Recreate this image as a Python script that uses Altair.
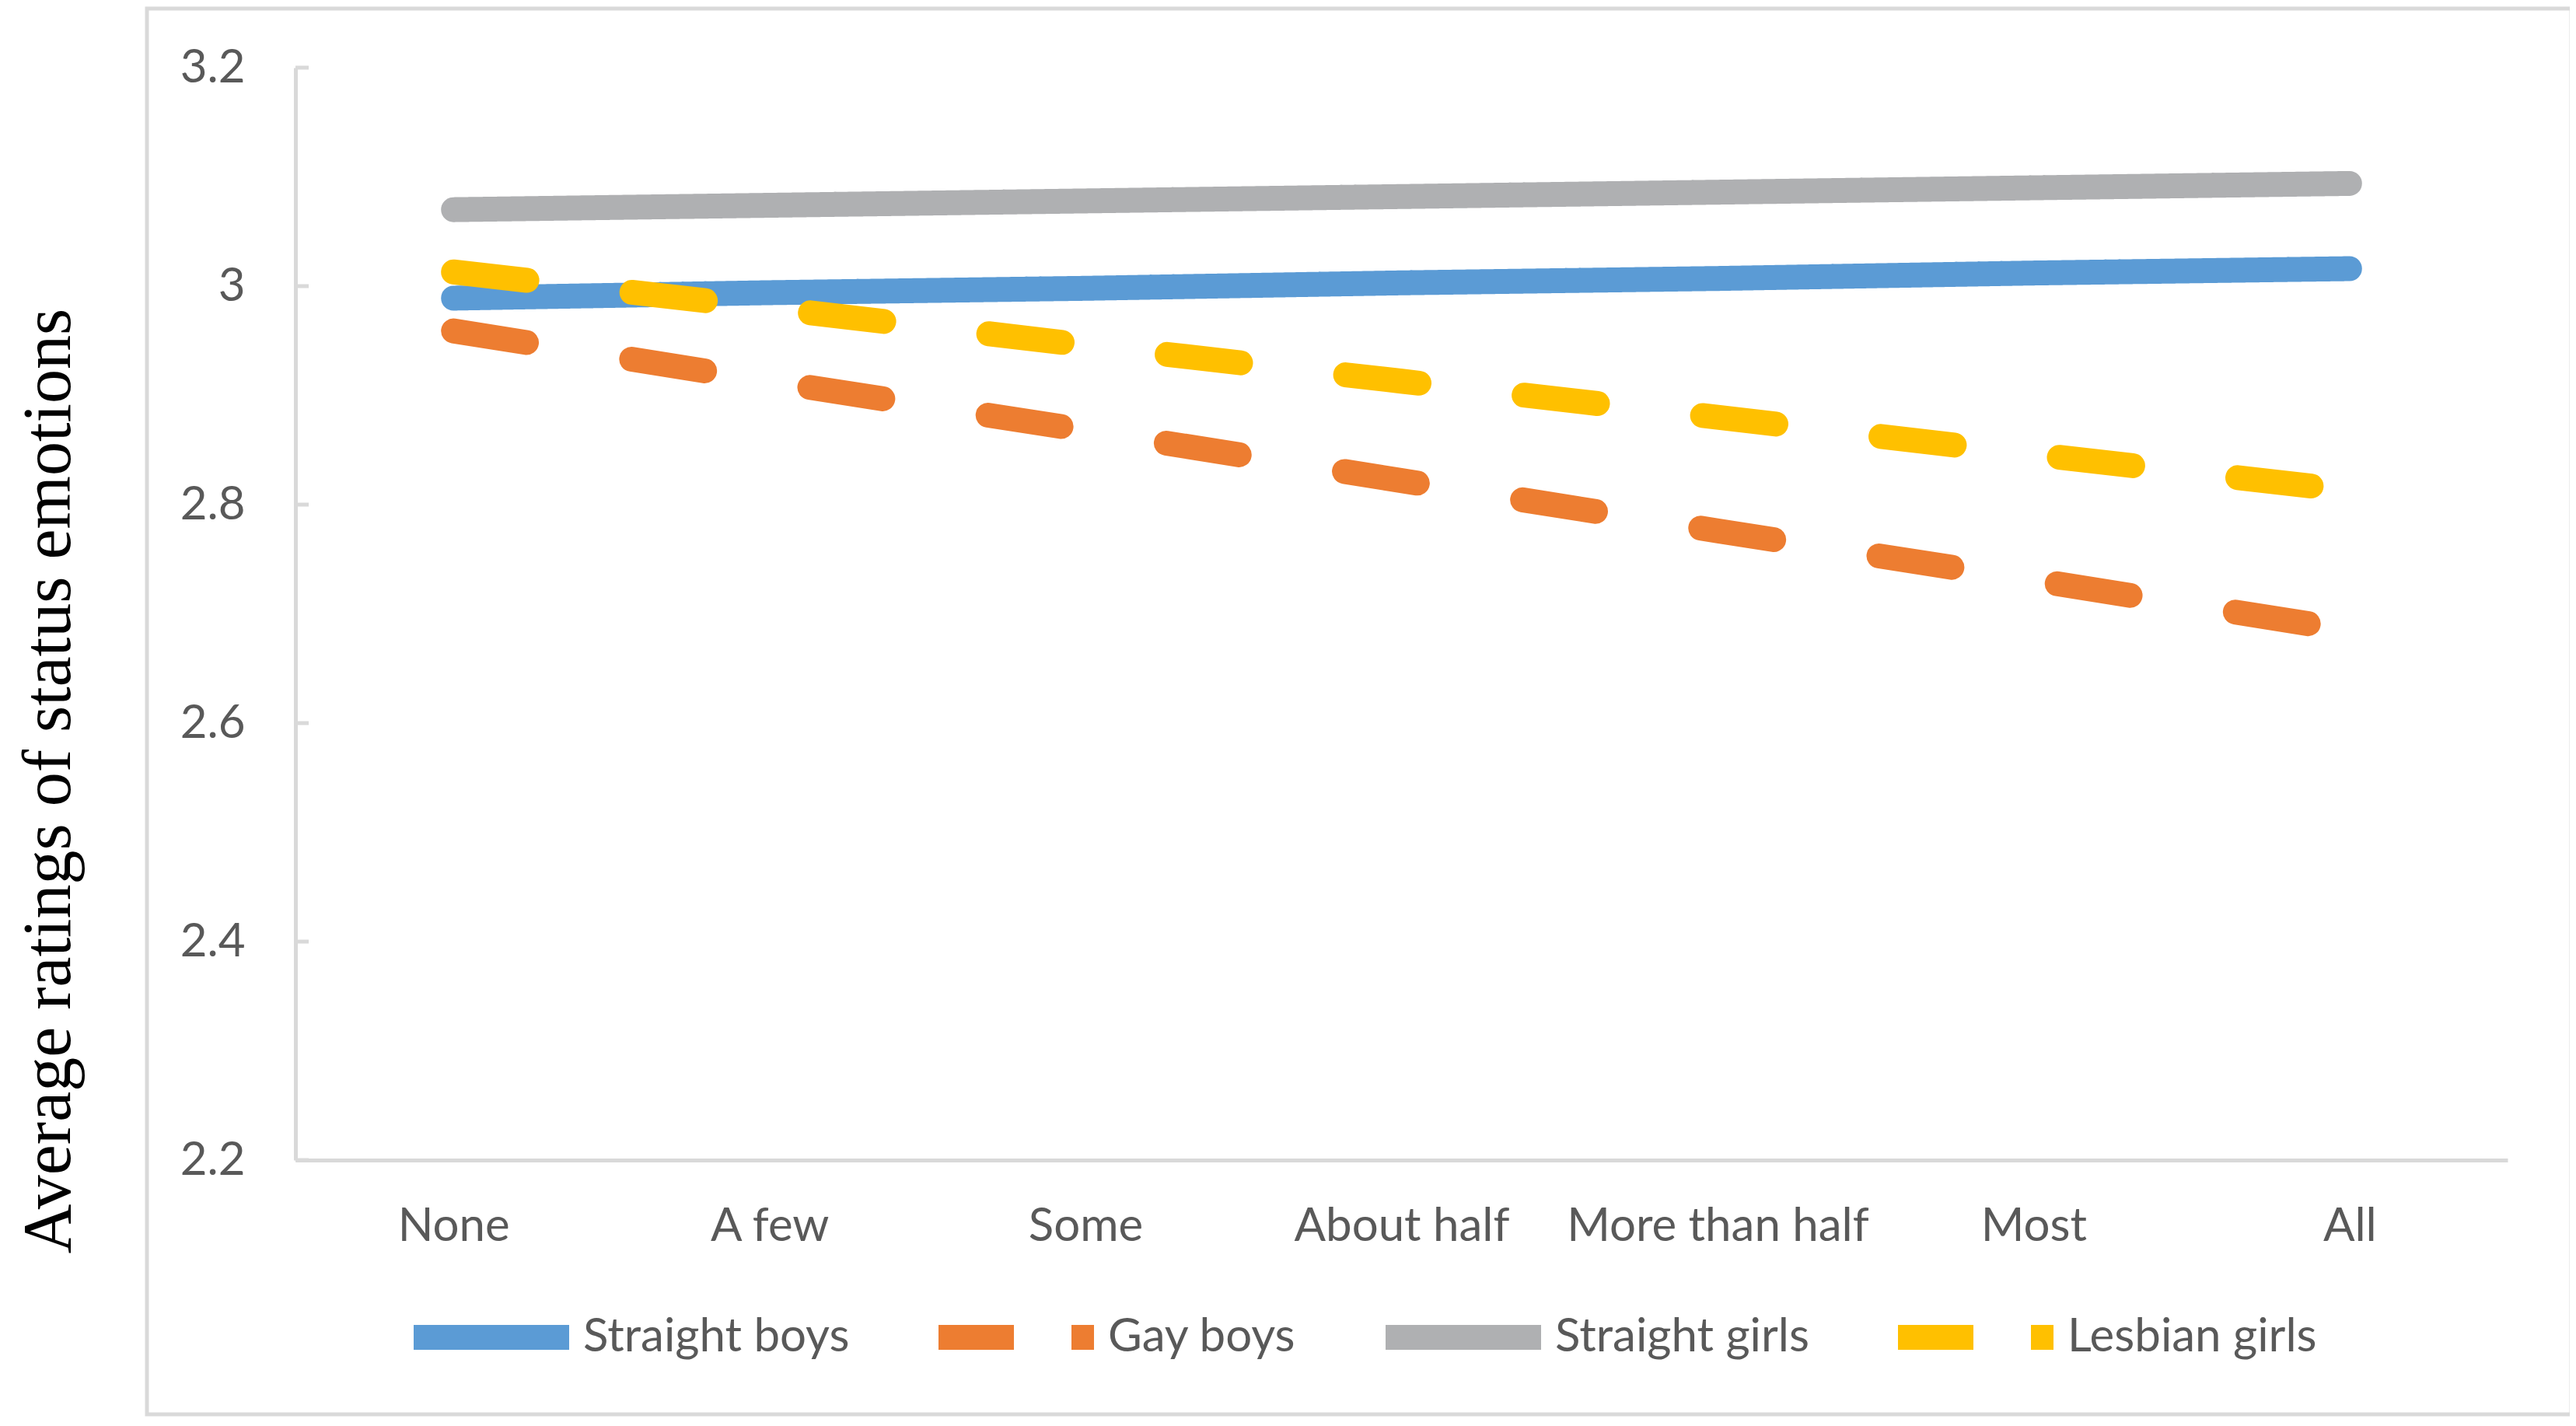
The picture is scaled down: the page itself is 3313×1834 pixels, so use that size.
import altair as alt
import pandas as pd

categories = ["None", "A few", "Some", "About half", "More than half", "Most", "All"]
series_names = ["Straight boys", "Gay boys", "Straight girls", "Lesbian girls"]
straight_boys = [2.989, 2.994, 2.998, 3.003, 3.007, 3.012, 3.016]
gay_boys = [2.959, 2.913, 2.868, 2.822, 2.776, 2.731, 2.685]
straight_girls = [3.070, 3.074, 3.078, 3.082, 3.086, 3.090, 3.094]
lesbian_girls = [3.013, 2.980, 2.946, 2.913, 2.880, 2.846, 2.813]
y_ticks = [2.2, 2.4, 2.6, 2.8, 3.0, 3.2]

colors = ["#5B9BD5", "#ED7D31", "#AFB0B2", "#FFC000"]
dashes = [[1, 0], [95, 137], [1, 0], [95, 136]]
legend_dashes = [[1, 0], [97, 74, 29, 1000], [1, 0], [97, 74, 29, 1000]]

rows = []
for name, vals in zip(series_names, [straight_boys, gay_boys, straight_girls, lesbian_girls]):
    for c, v in zip(categories, vals):
        rows.append({"cat": c, "value": v, "series": name})
df = pd.DataFrame(rows)
ticks_df = pd.DataFrame({"value": y_ticks})
one = pd.DataFrame({"a": [0]})

FONT = "Lato"
GRAY_TXT = "#595959"
AX = "#D9D9D9"

legend = alt.Legend(
    title=None, orient="none", legendX=136, legendY=1517, direction="horizontal",
    symbolType="stroke", symbolSize=40000, symbolStrokeWidth=32, symbolOpacity=1,
    labelFont=FONT, labelFontSize=60, labelColor=GRAY_TXT, labelOffset=2,
    columnPadding=50, labelLimit=0,
)

y_enc = alt.Y(
    "value:Q",
    scale=alt.Scale(domain=[2.2, 3.2], nice=False, zero=False),
    axis=alt.Axis(values=y_ticks, format="~g", title="Average ratings of status emotions"),
)
x_enc = alt.X("cat:N", sort=categories, axis=alt.Axis(title=None, labelAngle=0))

border = alt.Chart(one).mark_rect(filled=False, stroke=AX, strokeWidth=5).encode(
    x=alt.value(-191), x2=alt.value(2927), y=alt.value(-76), y2=alt.value(1732)
)

tick_rules = alt.Chart(ticks_df).mark_rule(color=AX, strokeWidth=5).encode(
    y=y_enc, x=alt.value(0), x2=alt.value(17)
)

color_scale = alt.Scale(domain=series_names, range=colors)

layers = [border, tick_rules]
for s in series_names:
    layers.append(
        alt.Chart(df).transform_filter(alt.datum.series == s)
        .mark_line(strokeWidth=32, strokeCap="round", strokeJoin="round")
        .encode(
            x=x_enc,
            y=y_enc,
            color=alt.Color("series:N", scale=color_scale, legend=None),
            strokeDash=alt.StrokeDash("series:N", scale=alt.Scale(domain=series_names, range=dashes), legend=None),
        )
    )

# legend-only layer: one point per series, so nothing is drawn in the plot
legend_layer = (
    alt.Chart(df).transform_filter(alt.datum.cat == "None")
    .mark_line(strokeWidth=32)
    .encode(
        x=x_enc,
        y=y_enc,
        color=alt.Color("series:N", scale=color_scale, legend=legend),
        strokeDash=alt.StrokeDash("series:N", scale=alt.Scale(domain=series_names, range=legend_dashes), legend=legend),
    )
)
layers.append(legend_layer)

chart = alt.layer(*layers).resolve_scale(
    color="independent", strokeDash="independent"
).properties(
    width=2845, height=1405,
    autosize=alt.AutoSizeParams(type="none"),
    padding={"left": 372, "top": 79, "right": 80, "bottom": 330},
).configure_view(stroke=None).configure_axisY(
    domainColor=AX, domainWidth=5, ticks=False, grid=False,
    labelFont=FONT, labelFontSize=60, labelColor=GRAY_TXT, labelPadding=65,
    labelBaseline="middle", labelAlign="right", labelLimit=1000,
    titleFont="Liberation Serif", titleFontSize=88, titleFontWeight="normal", titleColor="#000000",
    titleX=-291, titleY=917, titleAngle=270, titleAlign="center", titleBaseline="alphabetic",
).configure_axisX(
    domainColor=AX, domainWidth=5, ticks=False, tickSize=0, grid=False,
    labelFont=FONT, labelFontSize=60, labelColor=GRAY_TXT, labelPadding=103,
    labelBaseline="alphabetic", labelLimit=1000,
)

chart.save("out.html", embed_options={"renderer": "svg", "actions": False})
